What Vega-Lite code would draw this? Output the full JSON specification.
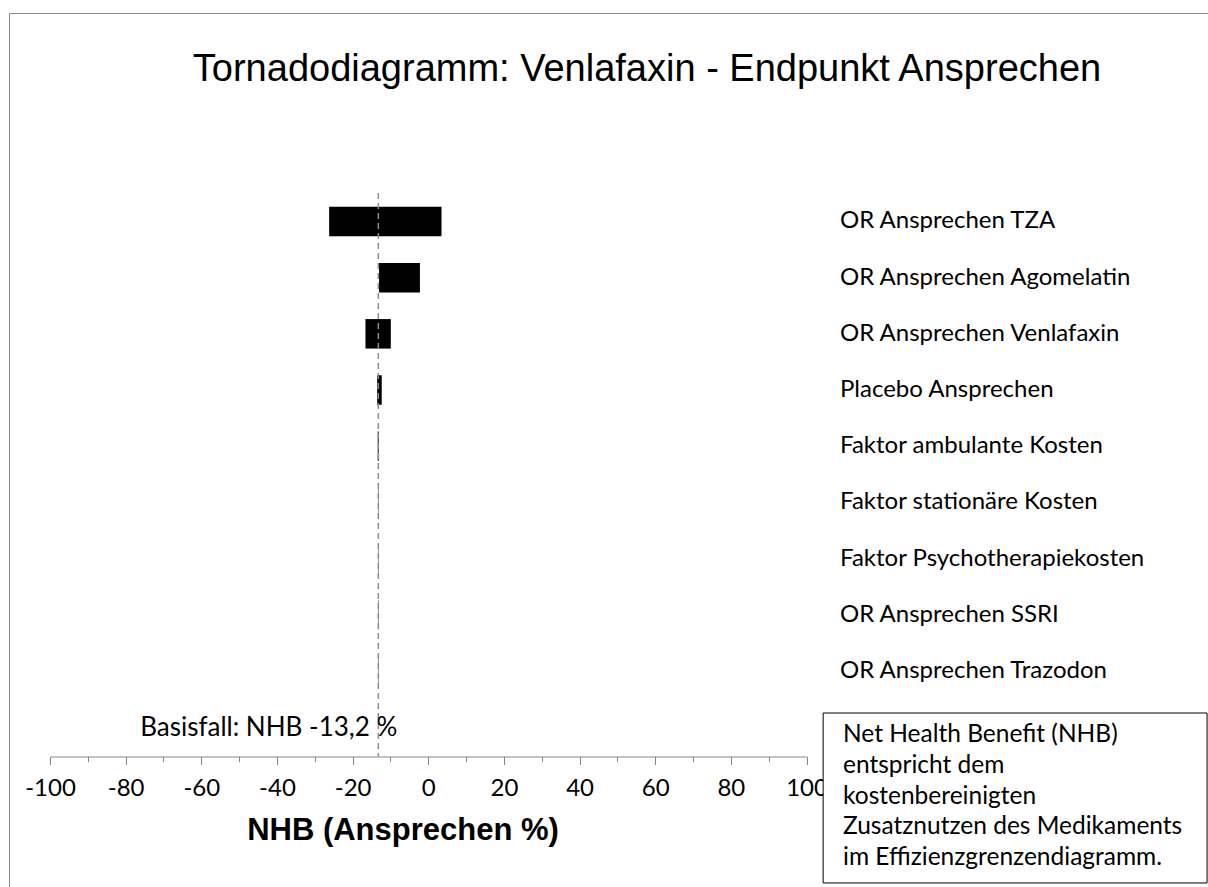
{
  "$schema": "https://vega.github.io/schema/vega-lite/v6.json",
  "width": 1215,
  "height": 890,
  "padding": {"left": 9, "top": 13, "right": 0, "bottom": 0},
  "background": "white",
  "config": {"view": {"stroke": "#898989", "strokeWidth": 1}},
  "title": {
    "text": "Tornadodiagramm: Venlafaxin - Endpunkt Ansprechen",
    "font": "Liberation Sans",
    "fontSize": 38,
    "fontWeight": "normal",
    "color": "black",
    "anchor": "middle",
    "dx": 30.5,
    "offset": -95,
    "baseline": "middle"
  },
  "datasets": {
    "params": [
      {"param": "OR Ansprechen TZA", "lo": -26.2, "hi": 3.5},
      {"param": "OR Ansprechen Agomelatin", "lo": -13.0, "hi": -2.2},
      {"param": "OR Ansprechen Venlafaxin", "lo": -16.6, "hi": -9.9},
      {"param": "Placebo Ansprechen", "lo": -13.5, "hi": -12.3},
      {"param": "Faktor ambulante Kosten", "lo": -13.35, "hi": -13.1},
      {"param": "Faktor stationäre Kosten", "lo": -13.25, "hi": -13.15},
      {"param": "Faktor Psychotherapiekosten", "lo": -13.25, "hi": -13.15},
      {"param": "OR Ansprechen SSRI", "lo": -13.25, "hi": -13.15},
      {"param": "OR Ansprechen Trazodon", "lo": -13.25, "hi": -13.15}
    ],
    "base": [
      {"base": -13.2, "label": "Basisfall: NHB -13,2 %", "note": "Net Health Benefit (NHB)\nentspricht dem\nkostenbereinigten\nZusatznutzen des Medikaments\nim Effizienzgrenzendiagramm."}
    ]
  },
  "layer": [
    {
      "data": {"name": "params"},
      "layer": [
        {
          "mark": {"type": "bar", "color": "black"},
          "encoding": {
            "x": {
              "field": "lo",
              "type": "quantitative",
              "scale": {"domain": [-100, 100], "range": [41, 797.5], "nice": false, "zero": false},
              "axis": {
                "values": [-100,-95,-90,-85,-80,-75,-70,-65,-60,-55,-50,-45,-40,-35,-30,-25,-20,-15,-10,-5,0,5,10,15,20,25,30,35,40,45,50,55,60,65,70,75,80,85,90,95,100],
                "labelExpr": "datum.value % 20 === 0 ? '' + datum.value : ''",
                "tickSize": {"condition": {"test": "datum.value % 20 === 0", "value": 8}, "value": 5},
                "offset": -146.5,
                "domainColor": "#868686",
                "tickColor": "#868686",
                "domainWidth": 1,
                "tickWidth": 1,
                "labelFont": "Lato",
                "labelFontSize": 24,
                "labelColor": "black",
                "labelPadding": 12,
                "labelOverlap": false,
                "labelFlush": false,
                "labelBound": false,
                "grid": false,
                "title": "NHB (Ansprechen %)",
                "titleFont": "Liberation Sans",
                "titleFontSize": 31,
                "titleFontWeight": "bold",
                "titleColor": "black",
                "titleX": 393.5,
                "titleY": 74,
                "titleBaseline": "middle"
              }
            },
            "x2": {"field": "hi"},
            "y": {
              "field": "param",
              "type": "nominal",
              "sort": null,
              "scale": {"range": [180.35, 686.05], "paddingInner": 0.475, "paddingOuter": 0.2375},
              "axis": null
            }
          }
        },
        {
          "mark": {"type": "text", "align": "left", "baseline": "middle", "font": "Lato", "fontSize": 24, "color": "black"},
          "encoding": {
            "x": {"datum": 108.86, "type": "quantitative"},
            "y": {"field": "param", "type": "nominal", "sort": null},
            "text": {"field": "param"}
          }
        }
      ]
    },
    {
      "data": {"name": "base"},
      "layer": [
        {
          "mark": {"type": "rule", "color": "#8c8c8c", "strokeDash": [6, 4], "strokeWidth": 1.5},
          "encoding": {
            "x": {"field": "base", "type": "quantitative"},
            "y": {"datum": 0.494, "type": "quantitative", "scale": {"domain": [0, 10], "range": [152.26, 714.16], "nice": false, "zero": false}, "axis": null},
            "y2": {"datum": 10.522}
          }
        },
        {
          "mark": {"type": "text", "align": "right", "baseline": "middle", "dx": 19, "font": "Lato", "fontSize": 26, "color": "black"},
          "encoding": {
            "x": {"field": "base", "type": "quantitative"},
            "y": {"datum": 10.015, "type": "quantitative"},
            "text": {"field": "label"}
          }
        },
        {
          "mark": {"type": "rect", "fill": "white", "stroke": "black", "strokeWidth": 1},
          "encoding": {
            "x": {"datum": 104.4, "type": "quantitative"},
            "x2": {"datum": 205.9},
            "y": {"datum": 9.748, "type": "quantitative"},
            "y2": {"datum": 12.773}
          }
        },
        {
          "mark": {"type": "text", "align": "left", "baseline": "top", "lineBreak": "\n", "lineHeight": 30.8, "font": "Lato", "fontSize": 24.5, "color": "black"},
          "encoding": {
            "x": {"datum": 109.65, "type": "quantitative"},
            "y": {"datum": 9.926, "type": "quantitative"},
            "text": {"field": "note"}
          }
        }
      ]
    }
  ],
  "resolve": {"scale": {"y": "independent"}}
}
